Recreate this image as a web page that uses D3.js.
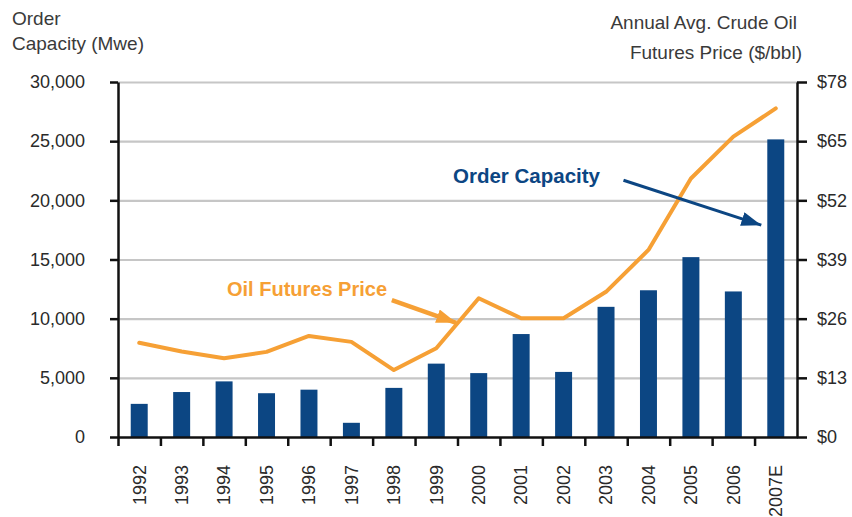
<!DOCTYPE html>
<html>
<head>
<meta charset="utf-8">
<script src="https://cdn.jsdelivr.net/npm/d3@7"></script>
<style>
  body { margin: 0; background: #fff; }
  svg { display: block; font-family: "Liberation Sans", Arial, sans-serif; }
</style>
</head>
<body>
<script>
const years = ["1992", "1993", "1994", "1995", "1996", "1997", "1998", "1999",
  "2000", "2001", "2002", "2003", "2004", "2005", "2006", "2007E"];
const orderCapacity = [2800, 3800, 4700, 3700, 4000, 1200, 4150, 6200,
  5400, 8700, 5500, 11000, 12400, 15200, 12300, 25150];
const oilPrice = [20.7, 18.8, 17.3, 18.7, 22.2, 20.9, 14.7, 19.5,
  30.5, 26.1, 26.1, 31.9, 41.1, 56.8, 66.0, 72.2];
const capacityTicks = [0, 5000, 10000, 15000, 20000, 25000, 30000];
const priceTicks = [0, 13, 26, 39, 52, 65, 78];

const w = 852;
const h = 517;
const plotLeft = 118;
const plotRight = 797;
const plotTop = 82;
const plotBottom = 437;

const blue = "#0c4683";
const orange = "#f6a035";

const svg = d3.select("body").append("svg").attr("width", w).attr("height", h);

const x = d3.scaleBand().domain(years).range([plotLeft, plotRight])
  .paddingInner(0.6).paddingOuter(0.3);
const xEdge = d3.scaleLinear().domain([0, years.length]).range([plotLeft, plotRight]);
const yL = d3.scaleLinear().domain([0, 30000]).range([plotBottom, plotTop]);
const yR = d3.scaleLinear().domain([0, 78]).range([plotBottom, plotTop]);
const mid = (yr) => x(yr) + x.bandwidth() / 2;

// gridlines
svg.append("g")
  .attr("transform", `translate(${plotLeft},0)`)
  .call(d3.axisLeft(yL).tickValues(capacityTicks.slice(1)).tickSize(-(plotRight - plotLeft)).tickFormat(""))
  .call((g) => g.select(".domain").remove())
  .call((g) => g.selectAll("line").attr("stroke", "#c6c6c6").attr("stroke-width", 2.2));

// bars
svg.selectAll(".bar")
  .data(orderCapacity)
  .join("rect")
  .attr("class", "bar")
  .attr("x", (d, i) => x(years[i]))
  .attr("y", (d) => yL(d))
  .attr("width", x.bandwidth())
  .attr("height", (d) => plotBottom - yL(d))
  .attr("fill", blue);

// oil line
svg.append("path")
  .datum(oilPrice)
  .attr("fill", "none")
  .attr("stroke", orange)
  .attr("stroke-width", 4)
  .attr("stroke-linejoin", "round")
  .attr("stroke-linecap", "round")
  .attr("d", d3.line().x((d, i) => mid(years[i])).y((d) => yR(d)));

// axes
const styleAxis = (g) => {
  g.select(".domain").attr("stroke", "#111").attr("stroke-width", 2.5);
  g.selectAll(".tick line").attr("stroke", "#111").attr("stroke-width", 2.5);
  g.selectAll("text").attr("fill", "#2a2a2a").style("font-size", "18px");
};

svg.append("g")
  .attr("transform", `translate(${plotLeft},0)`)
  .call(d3.axisLeft(yL).tickValues(capacityTicks).tickSize(8).tickSizeOuter(0)
    .tickPadding(25).tickFormat(d3.format(",")))
  .call(styleAxis);

svg.append("g")
  .attr("transform", `translate(${plotRight},0)`)
  .call(d3.axisRight(yR).tickValues(priceTicks).tickSize(10).tickSizeOuter(0)
    .tickPadding(10).tickFormat((d) => "$" + d))
  .call(styleAxis);

svg.append("g")
  .attr("transform", `translate(0,${plotBottom})`)
  .call(d3.axisBottom(xEdge).tickValues(d3.range(0, years.length)).tickSize(9)
    .tickSizeOuter(0).tickFormat(""))
  .call(styleAxis);

svg.append("g")
  .attr("transform", `translate(0,${plotBottom})`)
  .call(d3.axisBottom(x).tickSize(0).tickSizeOuter(0))
  .call((g) => g.select(".domain").remove())
  .call((g) => g.selectAll("text")
    .attr("fill", "#2a2a2a")
    .style("font-size", "18px")
    .attr("text-anchor", "end")
    .attr("dy", "0.35em")
    .attr("transform", "translate(0,28) rotate(-90)")
    .attr("x", 0)
    .attr("y", 0));

// axis titles
svg.append("text")
  .attr("x", 12).attr("y", 25)
  .attr("fill", "#3a3a3a").style("font-size", "19px")
  .text("Order");
svg.append("text")
  .attr("x", 12).attr("y", 50)
  .attr("fill", "#3a3a3a").style("font-size", "19px")
  .text("Capacity (Mwe)");
svg.append("text")
  .attr("x", 797).attr("y", 29).attr("text-anchor", "end")
  .attr("fill", "#3a3a3a").style("font-size", "19px")
  .text("Annual Avg. Crude Oil");
svg.append("text")
  .attr("x", 802).attr("y", 59).attr("text-anchor", "end")
  .attr("fill", "#3a3a3a").style("font-size", "19px")
  .text("Futures Price ($/bbl)");

// annotations
const defs = svg.append("defs");
const marker = (id, color) => defs.append("marker")
  .attr("id", id)
  .attr("viewBox", "0 0 20 14")
  .attr("refX", 20).attr("refY", 7)
  .attr("markerWidth", 20).attr("markerHeight", 14)
  .attr("markerUnits", "userSpaceOnUse")
  .attr("orient", "auto")
  .append("path").attr("d", "M0,0L20,7L0,14Z").attr("fill", color);
marker("arrowBlue", blue);
marker("arrowOrange", orange);

svg.append("text")
  .attr("x", 453).attr("y", 183)
  .attr("fill", blue).attr("font-weight", "bold").style("font-size", "20.5px")
  .text("Order Capacity");
svg.append("line")
  .attr("x1", mid("2004") - 25).attr("y1", yL(21700))
  .attr("x2", x("2007E") - 6).attr("y2", yL(17900))
  .attr("stroke", blue).attr("stroke-width", 3)
  .attr("marker-end", "url(#arrowBlue)");

svg.append("text")
  .attr("x", 227).attr("y", 296)
  .attr("fill", orange).attr("font-weight", "bold").style("font-size", "20px")
  .text("Oil Futures Price");
svg.append("line")
  .attr("x1", mid("1998") - 2).attr("y1", yR(30.1))
  .attr("x2", mid("1999") + 20).attr("y2", yR(25.1))
  .attr("stroke", orange).attr("stroke-width", 4.5)
  .attr("marker-end", "url(#arrowOrange)");
</script>
</body>
</html>
